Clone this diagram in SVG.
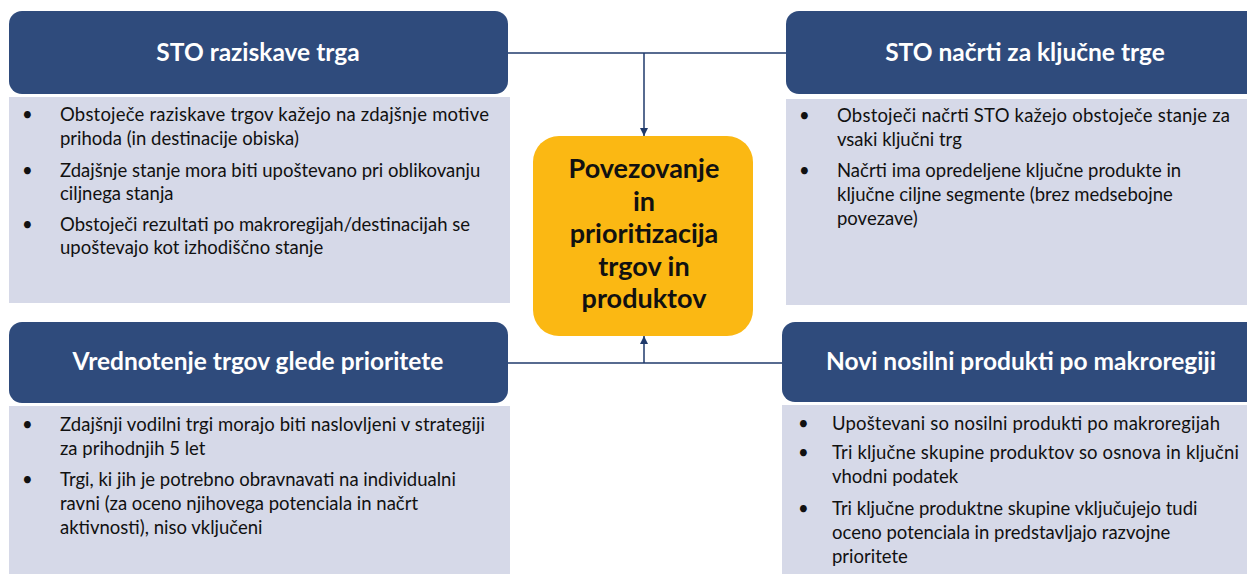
<svg xmlns="http://www.w3.org/2000/svg" width="1247" height="574" viewBox="0 0 1247 574">
<style>
.hdr{fill:#2F4B7C}
.body{fill:#D6D9E8}
.ttl{font-family:Lato,"Open Sans",sans-serif;font-weight:bold;font-size:24.5px;fill:#fff;text-anchor:middle}
.txt{font-family:Lato,"Open Sans",sans-serif;font-size:18.5px;fill:#111}
.ctr{font-family:Lato,"Open Sans",sans-serif;font-weight:bold;font-size:27px;fill:#111;text-anchor:middle}
.con{stroke:#1F3A6B;stroke-width:1.5;fill:none}
</style>
<defs>
<marker id="arr" viewBox="0 0 10 10" refX="10" refY="5" markerWidth="8" markerHeight="8" markerUnits="userSpaceOnUse" orient="auto">
<path d="M0,0 L10,5 L0,10 z" fill="#1F3A6B"/>
</marker>
</defs>
<rect width="1247" height="574" fill="#fff"/>
<g id="connectors">
<path class="con" d="M508,53 H786"/>
<path class="con" d="M644,53 V136" marker-end="url(#arr)"/>
<path class="con" d="M508,363 H782"/>
<path class="con" d="M644,363 V336" marker-end="url(#arr)"/>
</g>
<g id="n1">
<rect class="body" x="9" y="97" width="501" height="206"/>
<rect class="hdr" x="9" y="11" width="499" height="83" rx="13"/>
<text class="ttl" x="258" y="61">STO raziskave trga</text>
<text class="txt"><tspan x="22" y="121">•</tspan><tspan x="60" y="121" textLength="429">Obstoječe raziskave trgov kažejo na zdajšnje motive</tspan><tspan x="60" y="145">prihoda (in destinacije obiska)</tspan><tspan x="22" y="177">•</tspan><tspan x="60" y="177">Zdajšnje stanje mora biti upoštevano pri oblikovanju</tspan><tspan x="60" y="200">ciljnega stanja</tspan><tspan x="22" y="231">•</tspan><tspan x="60" y="231">Obstoječi rezultati po makroregijah/destinacijah se</tspan><tspan x="60" y="254">upoštevajo kot izhodiščno stanje</tspan></text>
</g>
<g id="n2">
<rect class="body" x="786" y="99" width="461" height="206"/>
<rect class="hdr" x="786" y="11" width="475" height="83" rx="13"/>
<text class="ttl" x="1025" y="61">STO načrti za ključne trge</text>
<text class="txt"><tspan x="799" y="122">•</tspan><tspan x="837" y="122" textLength="393">Obstoječi načrti STO kažejo obstoječe stanje za</tspan><tspan x="837" y="146">vsaki ključni trg</tspan><tspan x="799" y="177">•</tspan><tspan x="837" y="177">Načrti ima opredeljene ključne produkte in</tspan><tspan x="837" y="201">ključne ciljne segmente (brez medsebojne</tspan><tspan x="837" y="225">povezave)</tspan></text>
</g>
<g id="n3">
<rect class="body" x="9" y="406" width="501" height="168"/>
<rect class="hdr" x="9" y="322" width="499" height="81" rx="13"/>
<text class="ttl" x="258" y="370">Vrednotenje trgov glede prioritete</text>
<text class="txt"><tspan x="22" y="431">•</tspan><tspan x="60" y="431" textLength="425">Zdajšnji vodilni trgi morajo biti naslovljeni v strategiji</tspan><tspan x="60" y="455">za prihodnjih 5 let</tspan><tspan x="22" y="486">•</tspan><tspan x="60" y="486">Trgi, ki jih je potrebno obravnavati na individualni</tspan><tspan x="60" y="510">ravni (za oceno njihovega potenciala in načrt</tspan><tspan x="60" y="534">aktivnosti), niso vključeni</tspan></text>
</g>
<g id="n4">
<rect class="body" x="782" y="405" width="465" height="169"/>
<rect class="hdr" x="782" y="322" width="479" height="80" rx="13"/>
<text class="ttl" x="1021" y="370">Novi nosilni produkti po makroregiji</text>
<text class="txt"><tspan x="798" y="430">•</tspan><tspan x="832" y="430" textLength="388">Upoštevani so nosilni produkti po makroregijah</tspan><tspan x="798" y="459">•</tspan><tspan x="832" y="459" textLength="407">Tri ključne skupine produktov so osnova in ključni</tspan><tspan x="832" y="483">vhodni podatek</tspan><tspan x="798" y="515">•</tspan><tspan x="832" y="515">Tri ključne produktne skupine vključujejo tudi</tspan><tspan x="832" y="539">oceno potenciala in predstavljajo razvojne</tspan><tspan x="832" y="563">prioritete</tspan></text>
</g>
<g id="center">
<rect x="533" y="136" width="220" height="200" rx="26" fill="#FBB813"/>
<text class="ctr"><tspan x="644" y="178">Povezovanje</tspan><tspan x="644" y="211">in</tspan><tspan x="644" y="243">prioritizacija</tspan><tspan x="644" y="276">trgov in</tspan><tspan x="644" y="308">produktov</tspan></text>
</g>
</svg>
